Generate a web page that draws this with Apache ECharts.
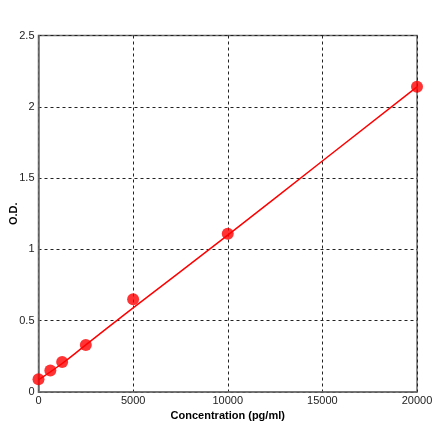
<!DOCTYPE html>
<html>
<head>
<meta charset="utf-8">
<script src="https://cdn.jsdelivr.net/npm/echarts@6/dist/echarts.min.js"></script>
<style>
  html, body { margin: 0; padding: 0; background: #fff; }
  #chart { width: 440px; height: 441px; }
</style>
</head>
<body>
<div id="chart"></div>
<script>
// standard points
var concentration = [0, 625, 1250, 2500, 5000, 10000, 20000];
var od = [0.09, 0.15, 0.21, 0.33, 0.65, 1.11, 2.14];

// fitted curve
var fitX = [0, 1250, 2500, 5000, 10000, 15000, 20000];
var fitY = [0.085, 0.2, 0.33, 0.59, 1.10, 1.62, 2.14];

var pts = concentration.map(function (c, i) { return [c, od[i]]; });
var fit = fitX.map(function (c, i) { return [c, fitY[i]]; });

var chart = echarts.init(document.getElementById('chart'), null, { renderer: 'canvas' });
var font = 'Liberation Sans, Arial, sans-serif';
chart.setOption({
    animation: false,
    grid: {
        left: 38.5,
        top: 35.5,
        right: 23,
        bottom: 49,
        containLabel: false,
        outerBoundsMode: 'none',
        show: true,
        borderColor: '#6e6e6e',
        borderWidth: 1.5
    },
    xAxis: {
        type: 'value',
        min: 0,
        max: 20000,
        interval: 5000,
        name: 'Concentration (pg/ml)',
        nameLocation: 'middle',
        nameGap: 17,
        nameTextStyle: { fontFamily: font, fontSize: 11, fontWeight: 'bold', color: '#000' },
        axisLine: { lineStyle: { color: '#6e6e6e', width: 1.5 } },
        axisTick: { show: false },
        axisLabel: {
            fontFamily: font, fontSize: 11, color: '#222', margin: 3,
            formatter: function (v) { return String(v); }
        },
        splitLine: { lineStyle: { color: '#222', type: [3, 3], width: 1 } }
    },
    yAxis: {
        type: 'value',
        min: 0,
        max: 2.5,
        interval: 0.5,
        name: 'O.D.',
        nameLocation: 'middle',
        nameRotate: 90,
        nameGap: 19,
        nameMoveOverlap: false,
        nameTextStyle: { fontFamily: font, fontSize: 11, fontWeight: 'bold', color: '#000' },
        axisLine: { lineStyle: { color: '#6e6e6e', width: 1.5 } },
        axisTick: { show: false },
        axisLabel: { fontFamily: font, fontSize: 11, color: '#222', margin: 4 },
        splitLine: { lineStyle: { color: '#222', type: [3, 3], width: 1 } }
    },
    series: [
        {
            name: 'fit',
            type: 'line',
            data: fit,
            smooth: true,
            showSymbol: false,
            symbol: 'none',
            lineStyle: { color: '#ff0000', width: 1.5 },
            z: 2
        },
        {
            name: 'std',
            type: 'scatter',
            data: pts,
            symbol: 'circle',
            symbolSize: 12,
            itemStyle: { color: '#ff0000' },
            z: 3
        }
    ]
});
</script>
</body>
</html>
